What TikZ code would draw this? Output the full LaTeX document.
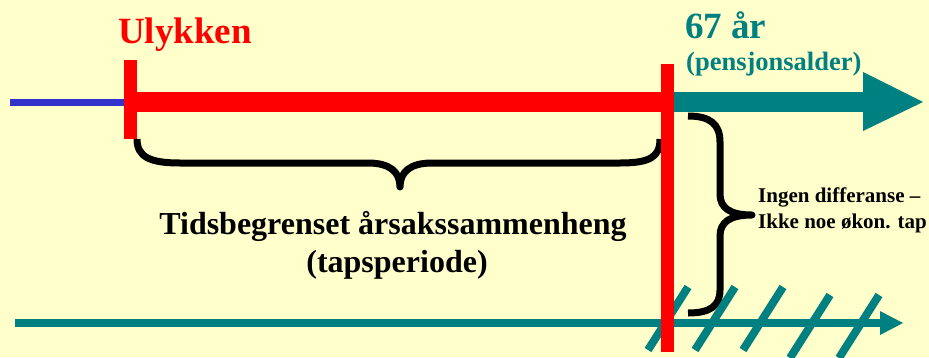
\documentclass[tikz,border=0pt]{standalone}
\usepackage{fontspec}
\setmainfont{Liberation Serif}
\definecolor{bgyellow}{HTML}{FFFFCC}
\definecolor{tealc}{HTML}{008080}
\definecolor{bluec}{HTML}{3333CC}
\definecolor{redc}{HTML}{FF0000}
\begin{document}
\begin{tikzpicture}[x=1pt,y=-1pt,
  lbl/.style={inner sep=0pt, anchor=base west, font=\bfseries},
  bracestroke/.style={draw=black, line width=7pt, line join=round},
  hatch/.style={draw=tealc, line width=8pt}]
\fill[bgyellow] (0,0) rectangle (929,357);
\useasboundingbox (0,0) rectangle (929,357);
% blue line before accident
\coordinate (bstart) at (10,102);
\coordinate (bend) at (126,102);
\draw[bluec, line width=7pt] (bstart) -- (bend);
% top teal arrow
\fill[tealc] (670,92) rectangle (864,112);
\fill[tealc] (863,72) -- (923,102) -- (863,131) -- cycle;
% red bar
\fill[redc] (130,92) rectangle (667,112);
% bottom teal arrow
\coordinate (lstart) at (15,323);
\coordinate (lend) at (882,323);
\draw[tealc, line width=8pt] (lstart) -- (lend);
\fill[tealc] (880,311) -- (903,323) -- (880,335) -- cycle;
% bottom brace
\draw[bracestroke] (137,139) .. controls (137,157) and (150,163) .. (180,163)
  -- (368,163) .. controls (390,163) and (400,172) .. (400,187)
  .. controls (400,172) and (410,163) .. (432,163)
  -- (620,163) .. controls (650,163) and (660,157) .. (660,139);
% right brace
\draw[bracestroke] (688,116) .. controls (710,116) and (720,124) .. (720,142)
  -- (720,194) .. controls (720,208) and (730,215) .. (752,215)
  .. controls (730,215) and (720,222) .. (720,236)
  -- (720,290) .. controls (720,306) and (710,313) .. (688,313);
% hatches
\draw[hatch] (648,350) -- (688,287);
\draw[hatch] (695,350) -- (735,287);
\draw[hatch] (743,350) -- (783,287);
\draw[hatch] (790,358) -- (830,295);
\draw[hatch] (839,358) -- (879,295);
% red verticals
\fill[redc] (124,60) rectangle (137,139);
\fill[redc] (661,64) rectangle (674,352);
% texts
\node[lbl, text=redc, font=\bfseries\fontsize{37}{37}\selectfont] (ulykken) at (118,43) {Ulykken};
\node[lbl, text=tealc, font=\bfseries\fontsize{37}{37}\selectfont] (age) at (685,38) {67 år};
\node[lbl, text=tealc, font=\bfseries\fontsize{26.5}{26.5}\selectfont] (pension) at (686,70) {(pensjonsalder)};
\node[inner sep=0pt, anchor=base, font=\bfseries\fontsize{32}{32}\selectfont] (tids) at (393,234) {Tidsbegrenset årsakssammenheng};
\node[inner sep=0pt, anchor=base, font=\bfseries\fontsize{32}{32}\selectfont] (taps) at (397,272) {(tapsperiode)};
\node[lbl, font=\bfseries\fontsize{21}{21}\selectfont] (ingen) at (758,202) {Ingen differanse –};
\node[lbl, font=\bfseries\fontsize{21}{21}\selectfont] (ikke) at (758,228) {Ikke noe økon. tap};
\end{tikzpicture}
\end{document}
